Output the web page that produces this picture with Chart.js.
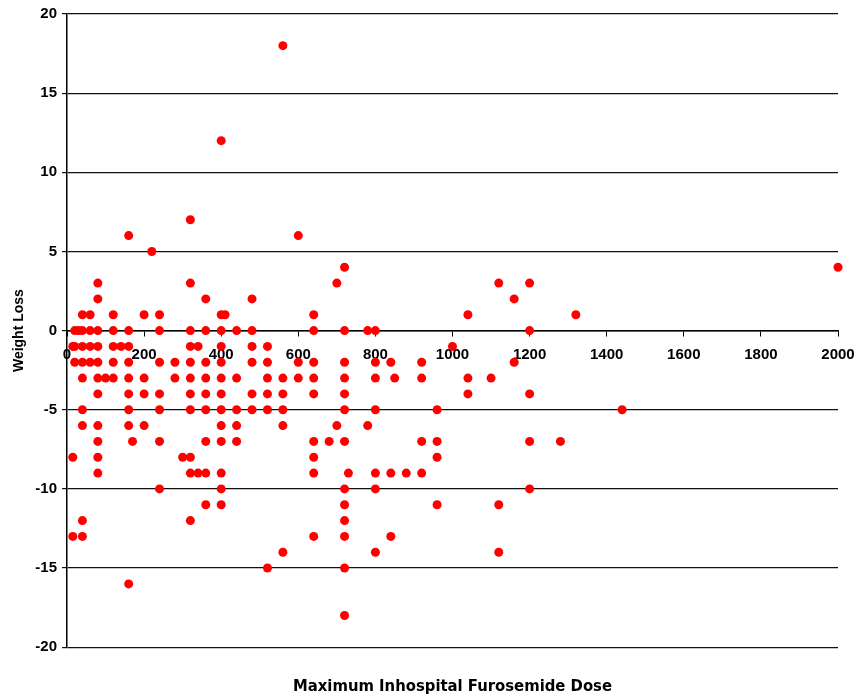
<!DOCTYPE html>
<html>
<head>
<meta charset="utf-8">
<script src="https://cdn.jsdelivr.net/npm/chart.js@4.4.1/dist/chart.umd.min.js"></script>
<style>
  body { margin: 0; background: #fff; }
</style>
</head>
<body>
<canvas id="scatter" width="857" height="700"></canvas>
<script>
// dose levels (x) and the weight loss values seen at each dose (y)
const doses = [15, 20, 30, 40, 60, 80, 100, 120, 140, 160, 170, 200, 220, 240, 280, 300, 320, 340, 360,
  400, 410, 440, 480, 520, 560, 600, 640, 680, 700, 720, 730, 780, 800, 840, 850, 880, 920, 960,
  1000, 1040, 1100, 1120, 1160, 1200, 1280, 1320, 1440, 2000];
const lossByDose = [
  [-1, -8, -13],
  [0, -1, -2],
  [0],
  [1, 0, -1, -2, -3, -5, -6, -12, -13],
  [1, 0, -1, -2],
  [3, 2, 0, -1, -2, -3, -4, -6, -7, -8, -9],
  [-3],
  [1, 0, -1, -2, -3],
  [-1],
  [6, 0, -1, -2, -3, -4, -5, -6, -16],
  [-7],
  [1, -3, -4, -6],
  [5],
  [1, 0, -2, -4, -5, -7, -10],
  [-2, -3],
  [-8],
  [7, 3, 0, -1, -2, -3, -4, -5, -8, -9, -12],
  [-1, -9],
  [2, 0, -2, -3, -4, -5, -7, -9, -11],
  [12, 1, 0, -1, -2, -3, -4, -5, -6, -7, -9, -10, -11],
  [1],
  [0, -3, -5, -6, -7],
  [2, 0, -1, -2, -4, -5],
  [-1, -2, -3, -4, -5, -15],
  [18, -3, -4, -5, -6, -14],
  [6, -2, -3],
  [1, 0, -2, -3, -4, -7, -8, -9, -13],
  [-7],
  [3, -6],
  [4, 0, -2, -3, -4, -5, -7, -10, -11, -12, -13, -15, -18],
  [-9],
  [0, -6],
  [0, -2, -3, -5, -9, -10, -14],
  [-2, -9, -13],
  [-3],
  [-9],
  [-2, -3, -7, -9],
  [-5, -7, -8, -11],
  [-1],
  [1, -3, -4],
  [-3],
  [3, -11, -14],
  [2, -2],
  [3, 0, -4, -7, -10],
  [-7],
  [1],
  [-5],
  [4]
];
const xTicks = [0, 200, 400, 600, 800, 1000, 1200, 1400, 1600, 1800, 2000];
const yTicks = [-20, -15, -10, -5, 0, 5, 10, 15, 20];

const points = [];
doses.forEach((d, i) => {
  lossByDose[i].forEach(v => points.push({ x: d, y: v }));
});

const tickFont = { family: '"Liberation Sans", Arial, sans-serif', size: 15, weight: 'bold' };

// center the bottom title over the plot area instead of the whole canvas
const centerTitle = {
  id: 'centerTitle',
  afterLayout(chart) {
    if (chart.titleBlock) {
      chart.titleBlock.left = chart.chartArea.left;
      chart.titleBlock.right = chart.chartArea.right;
    }
  }
};

new Chart(document.getElementById('scatter').getContext('2d'), {
  type: 'scatter',
  data: {
    datasets: [{
      label: 'Weight Loss',
      data: points,
      backgroundColor: '#ff0000',
      borderWidth: 0,
      pointRadius: 4.5,
      pointHoverRadius: 4.5,
      clip: false
    }]
  },
  options: {
    responsive: false,
    animation: false,
    devicePixelRatio: 1,
    layout: { padding: { top: 14, right: 19, left: 0, bottom: 0 } },
    plugins: {
      legend: { display: false },
      tooltip: { enabled: false },
      title: {
        display: true,
        position: 'bottom',
        text: 'Maximum Inhospital Furosemide Dose',
        color: '#000',
        font: { family: '"Liberation Sans Narrow", "Arial Narrow", "DejaVu Sans Condensed", sans-serif', size: 16.5, weight: 'bold' },
        padding: { top: 30, bottom: 3 }
      }
    },
    scales: {
      x: {
        type: 'linear',
        position: { y: 0 },
        min: 0,
        max: 2000,
        afterBuildTicks: s => { s.ticks = xTicks.map(v => ({ value: v })); },
        afterFit: s => { s.paddingLeft = 0; s.paddingRight = 0; },
        grid: { drawOnChartArea: false, drawTicks: true, tickLength: 5, color: '#000' },
        border: { display: true, color: '#000', width: 1.5 },
        ticks: { color: '#000', font: tickFont, padding: 10, maxRotation: 0, autoSkip: false, callback: v => String(v) }
      },
      y: {
        min: -20,
        max: 20,
        afterBuildTicks: s => { s.ticks = yTicks.map(v => ({ value: v })); },
        afterFit: s => { s.width = 67; },
        grid: { color: '#111', lineWidth: 1.2, tickLength: 5 },
        border: { display: true, color: '#000', width: 1.5 },
        ticks: { color: '#000', font: tickFont, padding: 5, callback: v => String(v) },
        title: {
          display: true,
          text: 'Weight Loss',
          color: '#000',
          font: { family: '"Liberation Sans", Arial, sans-serif', size: 14, weight: 'bold' },
          padding: { top: 11, bottom: 0 }
        }
      }
    }
  },
  plugins: [centerTitle]
});
</script>
</body>
</html>
